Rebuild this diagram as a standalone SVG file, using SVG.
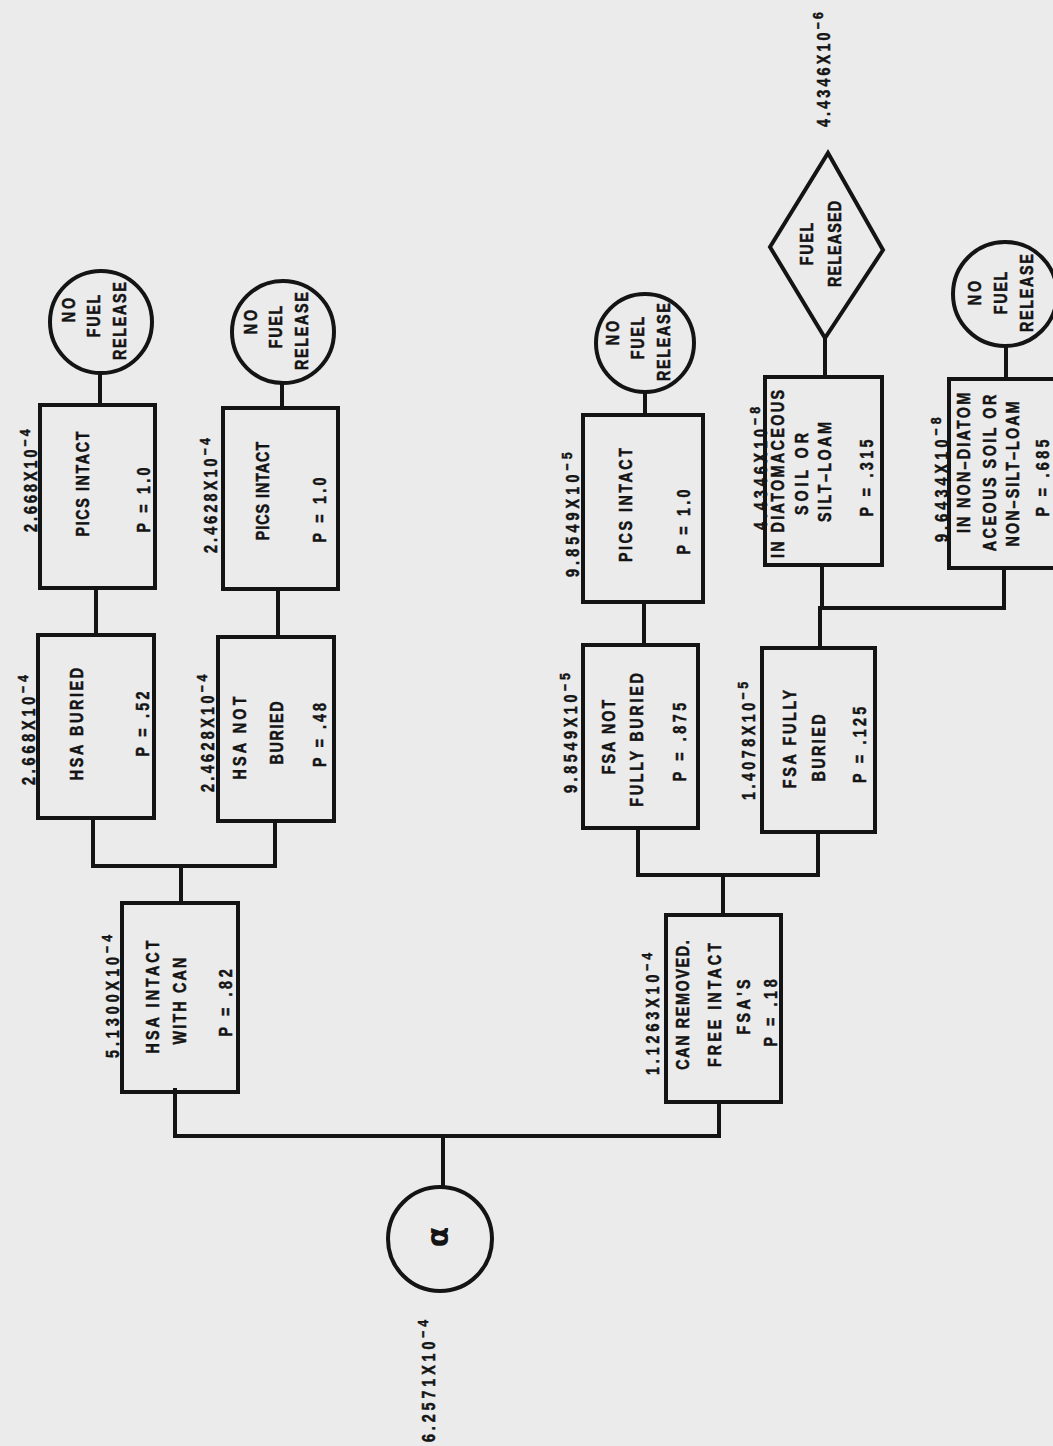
<svg xmlns="http://www.w3.org/2000/svg" width="1053" height="1446" viewBox="0 0 1053 1446">
<style>
.bg{fill:#ebebeb}
.box{fill:none;stroke:#141414;stroke-width:4;stroke-linejoin:miter}
.ln{fill:none;stroke:#141414;stroke-width:4;stroke-linecap:square}
.t{font-family:"Liberation Sans",Arial,sans-serif;font-weight:bold;font-size:17.5px;fill:#141414;stroke:#141414;stroke-width:0.5;text-anchor:middle}
.l{font-family:"Liberation Sans",Arial,sans-serif;font-weight:bold;font-size:17.5px;fill:#141414;stroke:#141414;stroke-width:0.5;text-anchor:start}
.sup{font-size:15px}
.al{font-family:"DejaVu Sans",sans-serif;font-weight:bold;font-size:30px;fill:#141414;text-anchor:middle}
</style>
<rect class="bg" x="0" y="0" width="1053" height="1446"/>

<g id="connectors">
<path class="ln" d="M443 1187 V1136"/>
<path class="ln" d="M175 1090 V1136 H719 V1102"/>
<path class="ln" d="M181 903 V866"/>
<path class="ln" d="M93 818 V866 H275 V821"/>
<path class="ln" d="M96 635 V588"/>
<path class="ln" d="M278 637 V589"/>
<path class="ln" d="M100 405 V373"/>
<path class="ln" d="M282 408 V383"/>
<path class="ln" d="M723 915 V875"/>
<path class="ln" d="M638 828 V875 H818 V832"/>
<path class="ln" d="M644 645 V602"/>
<path class="ln" d="M645 415 V392"/>
<path class="ln" d="M820 648 V608"/>
<path class="ln" d="M822 565 V608 H1004 V568"/>
<path class="ln" d="M825 377 V338"/>
<path class="ln" d="M1006 379 V346"/>
</g>

<g id="alpha">
<circle class="box" cx="440" cy="1239" r="52"/>
<text class="al" transform="translate(448,1237) rotate(-90)">α</text>
<text class="l" transform="translate(435,1442) rotate(-90) scale(0.82,1)" textLength="149" lengthAdjust="spacing">6.2571X10<tspan class="sup" dy="-7">−4</tspan></text>
</g>

<g id="hsa-intact">
<rect class="box" x="122" y="903" width="116" height="189"/>
<text class="l" transform="translate(119,1058) rotate(-90) scale(0.82,1)" textLength="150" lengthAdjust="spacing">5.1300X10<tspan class="sup" dy="-7">−4</tspan></text>
<text class="t" transform="translate(159,997) rotate(-90) scale(0.82,1)" textLength="138" lengthAdjust="spacing">HSA INTACT</text>
<text class="t" transform="translate(186,1001) rotate(-90) scale(0.82,1)" textLength="106" lengthAdjust="spacing">WITH CAN</text>
<text class="t" transform="translate(232,1003) rotate(-90) scale(0.82,1)" textLength="82" lengthAdjust="spacing">P = .82</text>
</g>

<g id="hsa-buried">
<rect class="box" x="38" y="635" width="116" height="183"/>
<text class="l" transform="translate(35,785) rotate(-90) scale(0.82,1)" textLength="134" lengthAdjust="spacing">2.668X10<tspan class="sup" dy="-7">−4</tspan></text>
<text class="t" transform="translate(83,724) rotate(-90) scale(0.82,1)" textLength="137" lengthAdjust="spacing">HSA BURIED</text>
<text class="t" transform="translate(149,724) rotate(-90) scale(0.82,1)" textLength="79" lengthAdjust="spacing">P = .52</text>
</g>

<g id="hsa-not-buried">
<rect class="box" x="218" y="637" width="116" height="184"/>
<text class="l" transform="translate(214,792) rotate(-90) scale(0.82,1)" textLength="143" lengthAdjust="spacing">2.4628X10<tspan class="sup" dy="-7">−4</tspan></text>
<text class="t" transform="translate(246,738) rotate(-90) scale(0.82,1)" textLength="101" lengthAdjust="spacing">HSA NOT</text>
<text class="t" transform="translate(283,733) rotate(-90) scale(0.82,1)" textLength="77" lengthAdjust="spacing">BURIED</text>
<text class="t" transform="translate(326,735) rotate(-90) scale(0.82,1)" textLength="78" lengthAdjust="spacing">P = .48</text>
</g>

<g id="pics-1">
<rect class="box" x="40" y="405" width="115" height="183"/>
<text class="l" transform="translate(37,532) rotate(-90) scale(0.82,1)" textLength="125" lengthAdjust="spacing">2.668X10<tspan class="sup" dy="-7">−4</tspan></text>
<text class="t" transform="translate(89,484) rotate(-90) scale(0.82,1)" textLength="128" lengthAdjust="spacing">PICS INTACT</text>
<text class="t" transform="translate(150,500) rotate(-90) scale(0.82,1)" textLength="79" lengthAdjust="spacing">P = 1.0</text>
</g>

<g id="pics-2">
<rect class="box" x="223" y="408" width="115" height="181"/>
<text class="l" transform="translate(217,553) rotate(-90) scale(0.82,1)" textLength="140" lengthAdjust="spacing">2.4628X10<tspan class="sup" dy="-7">−4</tspan></text>
<text class="t" transform="translate(269,491) rotate(-90) scale(0.82,1)" textLength="120" lengthAdjust="spacing">PICS INTACT</text>
<text class="t" transform="translate(326,510) rotate(-90) scale(0.82,1)" textLength="79" lengthAdjust="spacing">P = 1.0</text>
</g>

<g id="nfr-1">
<circle class="box" cx="101" cy="322" r="51"/>
<text class="t" transform="translate(75,310) rotate(-90) scale(0.82,1)" textLength="30" lengthAdjust="spacing">NO</text>
<text class="t" transform="translate(100,316) rotate(-90) scale(0.82,1)" textLength="52" lengthAdjust="spacing">FUEL</text>
<text class="t" transform="translate(126,321) rotate(-90) scale(0.82,1)" textLength="95" lengthAdjust="spacing">RELEASE</text>
</g>

<g id="nfr-2">
<circle class="box" cx="283" cy="332" r="51"/>
<text class="t" transform="translate(257,322) rotate(-90) scale(0.82,1)" textLength="30" lengthAdjust="spacing">NO</text>
<text class="t" transform="translate(282,327) rotate(-90) scale(0.82,1)" textLength="52" lengthAdjust="spacing">FUEL</text>
<text class="t" transform="translate(308,331) rotate(-90) scale(0.82,1)" textLength="95" lengthAdjust="spacing">RELEASE</text>
</g>

<g id="can-removed">
<rect class="box" x="666" y="915" width="115" height="187"/>
<text class="l" transform="translate(659,1075) rotate(-90) scale(0.82,1)" textLength="149" lengthAdjust="spacing">1.1263X10<tspan class="sup" dy="-7">−4</tspan></text>
<text class="t" transform="translate(689,1005) rotate(-90) scale(0.82,1)" textLength="158" lengthAdjust="spacing">CAN REMOVED.</text>
<text class="t" transform="translate(721,1005) rotate(-90) scale(0.82,1)" textLength="151" lengthAdjust="spacing">FREE INTACT</text>
<text class="t" transform="translate(750,1007) rotate(-90) scale(0.82,1)" textLength="67" lengthAdjust="spacing">FSA'S</text>
<text class="t" transform="translate(777,1013) rotate(-90) scale(0.82,1)" textLength="82" lengthAdjust="spacing">P = .18</text>
</g>

<g id="fsa-not-fully-buried">
<rect class="box" x="583" y="645" width="115" height="183"/>
<text class="l" transform="translate(577,793) rotate(-90) scale(0.82,1)" textLength="146" lengthAdjust="spacing">9.8549X10<tspan class="sup" dy="-7">−5</tspan></text>
<text class="t" transform="translate(615,737) rotate(-90) scale(0.82,1)" textLength="91" lengthAdjust="spacing">FSA NOT</text>
<text class="t" transform="translate(643,740) rotate(-90) scale(0.82,1)" textLength="163" lengthAdjust="spacing">FULLY BURIED</text>
<text class="t" transform="translate(686,742) rotate(-90) scale(0.82,1)" textLength="96" lengthAdjust="spacing">P = .875</text>
</g>

<g id="fsa-fully-buried">
<rect class="box" x="762" y="648" width="113" height="184"/>
<text class="l" transform="translate(755,800) rotate(-90) scale(0.82,1)" textLength="144" lengthAdjust="spacing">1.4078X10<tspan class="sup" dy="-7">−5</tspan></text>
<text class="t" transform="translate(796,739) rotate(-90) scale(0.82,1)" textLength="120" lengthAdjust="spacing">FSA FULLY</text>
<text class="t" transform="translate(825,748) rotate(-90) scale(0.82,1)" textLength="82" lengthAdjust="spacing">BURIED</text>
<text class="t" transform="translate(866,745) rotate(-90) scale(0.82,1)" textLength="93" lengthAdjust="spacing">P = .125</text>
</g>

<g id="pics-3">
<rect class="box" x="583" y="415" width="120" height="187"/>
<text class="l" transform="translate(579,577) rotate(-90) scale(0.82,1)" textLength="152" lengthAdjust="spacing">9.8549X10<tspan class="sup" dy="-7">−5</tspan></text>
<text class="t" transform="translate(632,505) rotate(-90) scale(0.82,1)" textLength="139" lengthAdjust="spacing">PICS INTACT</text>
<text class="t" transform="translate(690,522) rotate(-90) scale(0.82,1)" textLength="79" lengthAdjust="spacing">P = 1.0</text>
</g>

<g id="nfr-3">
<circle class="box" cx="645" cy="343" r="49"/>
<text class="t" transform="translate(619,333) rotate(-90) scale(0.82,1)" textLength="30" lengthAdjust="spacing">NO</text>
<text class="t" transform="translate(644,338) rotate(-90) scale(0.82,1)" textLength="52" lengthAdjust="spacing">FUEL</text>
<text class="t" transform="translate(670,342) rotate(-90) scale(0.82,1)" textLength="95" lengthAdjust="spacing">RELEASE</text>
</g>

<g id="diatomaceous">
<rect class="box" x="765" y="377" width="117" height="188"/>
<text class="l" transform="translate(767,530) rotate(-90) scale(0.82,1)" textLength="150" lengthAdjust="spacing">4.4346X10<tspan class="sup" dy="-7">−8</tspan></text>
<text class="t" transform="translate(784,474) rotate(-90) scale(0.82,1)" textLength="205" lengthAdjust="spacing">IN DIATOMACEOUS</text>
<text class="t" transform="translate(808,474) rotate(-90) scale(0.82,1)" textLength="100" lengthAdjust="spacing">SOIL OR</text>
<text class="t" transform="translate(831,472) rotate(-90) scale(0.82,1)" textLength="122" lengthAdjust="spacing">SILT–LOAM</text>
<text class="t" transform="translate(873,478) rotate(-90) scale(0.82,1)" textLength="94" lengthAdjust="spacing">P = .315</text>
</g>

<g id="fuel-released">
<polygon class="box" points="828,153 883,250 825,338 770,247"/>
<text class="t" transform="translate(813,244) rotate(-90) scale(0.82,1)" textLength="52" lengthAdjust="spacing">FUEL</text>
<text class="t" transform="translate(841,244) rotate(-90) scale(0.82,1)" textLength="105" lengthAdjust="spacing">RELEASED</text>
<text class="l" transform="translate(830,127) rotate(-90) scale(0.82,1)" textLength="140" lengthAdjust="spacing">4.4346X10<tspan class="sup" dy="-7">−6</tspan></text>
</g>

<g id="non-diatomaceous">
<rect class="box" x="949" y="379" width="120" height="189"/>
<text class="l" transform="translate(948,542) rotate(-90) scale(0.82,1)" textLength="152" lengthAdjust="spacing">9.6434X10<tspan class="sup" dy="-7">−8</tspan></text>
<text class="t" transform="translate(970,463) rotate(-90) scale(0.82,1)" textLength="171" lengthAdjust="spacing">IN NON–DIATOM</text>
<text class="t" transform="translate(996,473) rotate(-90) scale(0.82,1)" textLength="191" lengthAdjust="spacing">ACEOUS SOIL OR</text>
<text class="t" transform="translate(1019,474) rotate(-90) scale(0.82,1)" textLength="177" lengthAdjust="spacing">NON–SILT–LOAM</text>
<text class="t" transform="translate(1049,478) rotate(-90) scale(0.82,1)" textLength="94" lengthAdjust="spacing">P = .685</text>
</g>

<g id="nfr-4">
<circle class="box" cx="1005" cy="294" r="52"/>
<text class="t" transform="translate(981,293) rotate(-90) scale(0.82,1)" textLength="30" lengthAdjust="spacing">NO</text>
<text class="t" transform="translate(1007,293) rotate(-90) scale(0.82,1)" textLength="52" lengthAdjust="spacing">FUEL</text>
<text class="t" transform="translate(1033,293) rotate(-90) scale(0.82,1)" textLength="95" lengthAdjust="spacing">RELEASE</text>
</g>
</svg>
